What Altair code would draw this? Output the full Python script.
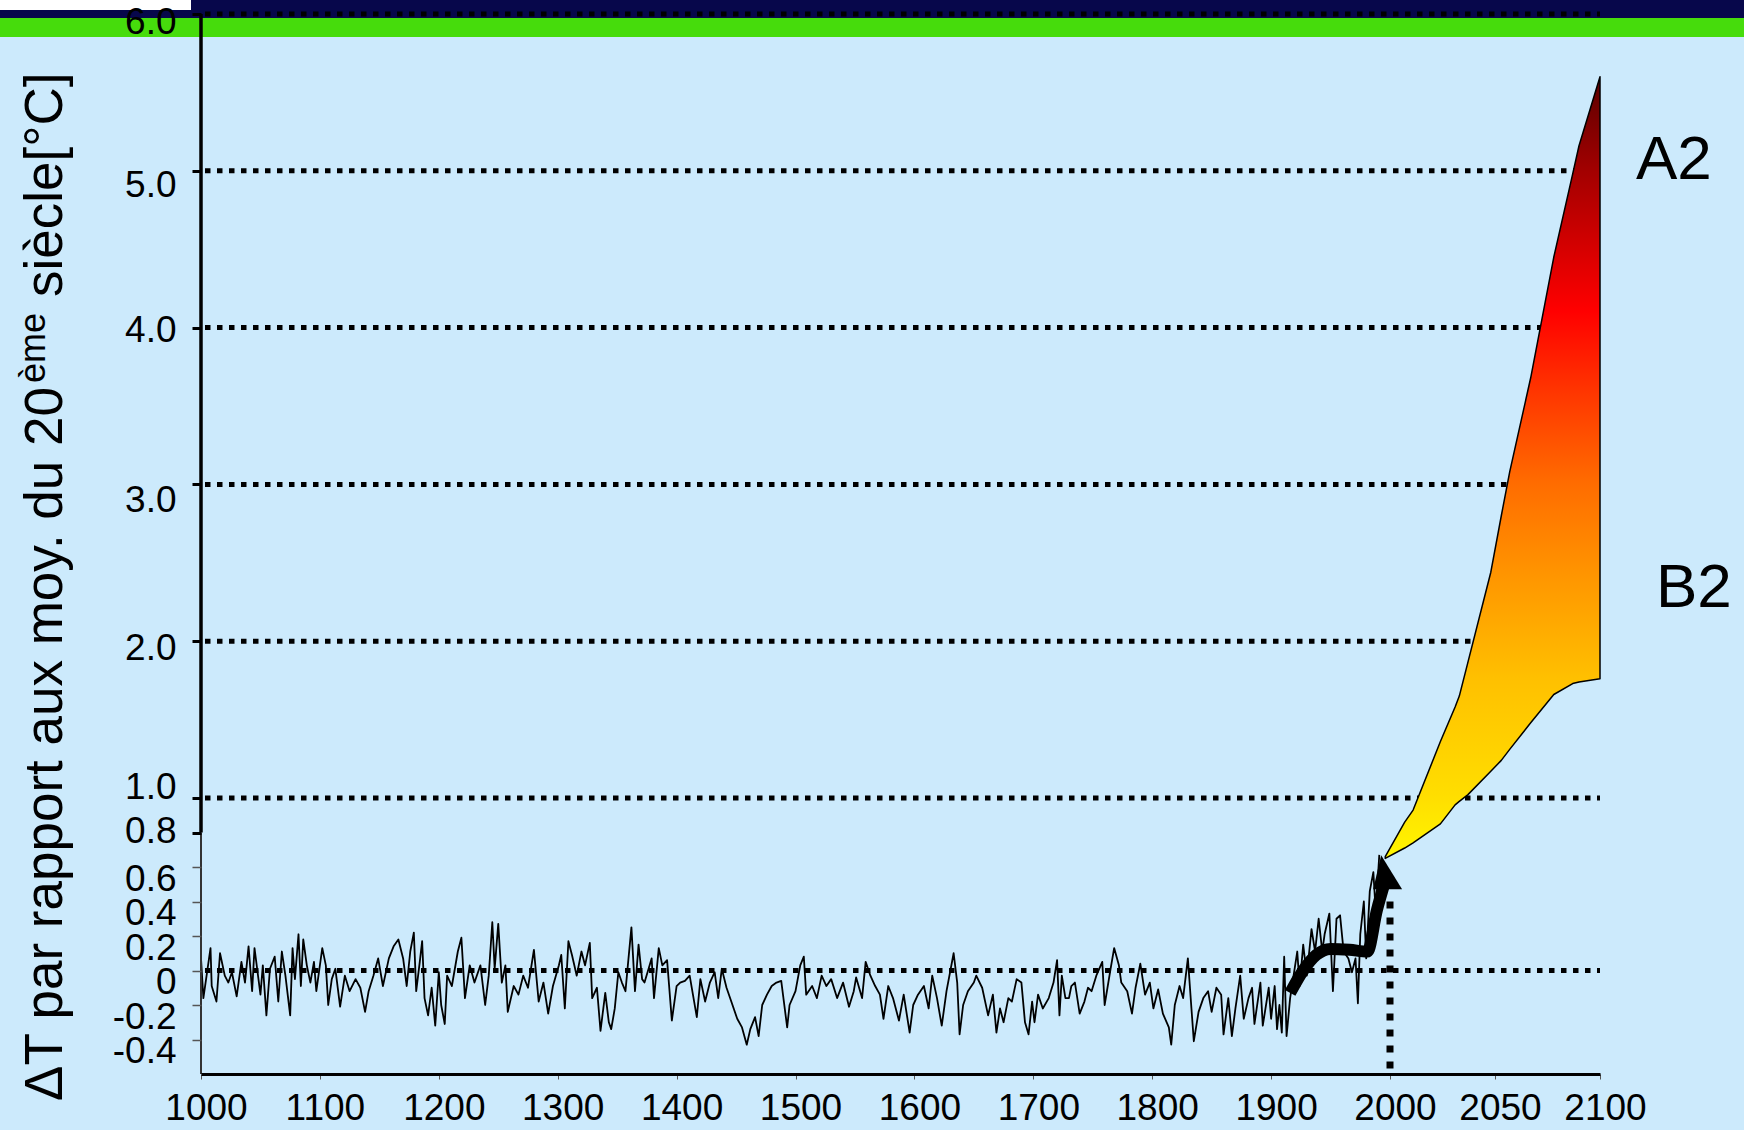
import altair as alt
import pandas as pd

# ---------------------------------------------------------------------------
# Reconstructed northern-hemisphere temperature anomaly, 1000-1991
# (deg C, relative to the 20th-century mean), read in four stretches
# ---------------------------------------------------------------------------
YEARS_A = [1000, 1002, 1008, 1009, 1013, 1016, 1020, 1023, 1026, 1030,
           1034, 1037, 1040, 1043, 1045, 1050, 1052, 1055, 1058, 1062,
           1065, 1068, 1071, 1075, 1077, 1079, 1082, 1084, 1086, 1089,
           1092, 1095, 1097, 1102, 1105, 1107, 1110, 1113, 1117, 1121,
           1125, 1130, 1134, 1138, 1141, 1145, 1149, 1153, 1158, 1162,
           1166, 1170, 1173, 1176, 1179, 1181, 1184, 1186, 1188, 1191,
           1194, 1197, 1200, 1202, 1205, 1207, 1211, 1216, 1219, 1222,
           1226, 1230, 1235, 1239, 1242, 1245, 1247, 1250, 1253, 1256,
           1258, 1263, 1267, 1271, 1275, 1280, 1284, 1288, 1292, 1296,
           1301, 1303, 1306, 1309, 1312, 1316, 1320, 1323]
ANOM_A = [0.07, -0.16, 0.13, -0.09, -0.18, 0.10, -0.03, -0.07, -0.01, -0.15,
          0.05, -0.07, 0.14, -0.12, 0.13, -0.14, 0.03, -0.26, 0.01, 0.08,
          -0.18, 0.11, -0.03, -0.26, 0.13, -0.05, 0.21, -0.09, 0.18, 0.03,
          -0.07, 0.05, -0.12, 0.13, 0.03, -0.20, -0.05, 0.01, -0.21, -0.03,
          -0.12, -0.05, -0.10, -0.24, -0.12, -0.03, 0.07, -0.09, 0.07, 0.14,
          0.18, 0.07, -0.09, 0.11, 0.22, -0.12, 0.05, 0.17, -0.16, -0.26,
          -0.10, -0.32, -0.01, -0.20, -0.31, -0.03, -0.09, 0.11, 0.19, -0.16,
          0.03, -0.07, 0.03, -0.20, -0.03, 0.28, 0.01, 0.27, -0.07, 0.03,
          -0.24, -0.09, -0.14, -0.03, -0.10, 0.12, -0.18, -0.07, -0.25, -0.09,
          0.03, 0.09, -0.22, 0.17, 0.09, -0.03, 0.11, 0.03]

YEARS_B = [1327, 1329, 1333, 1336, 1340, 1343, 1345, 1348, 1351, 1354,
           1357, 1359, 1362, 1365, 1368, 1371, 1373, 1379, 1381, 1385,
           1388, 1392, 1396, 1400, 1403, 1407, 1411, 1417, 1420, 1424,
           1428, 1432, 1435, 1438, 1442, 1446, 1451, 1455, 1459, 1462,
           1466, 1469, 1472, 1476, 1480, 1484, 1488, 1493, 1495, 1500,
           1504, 1507, 1509, 1514, 1518, 1522, 1526, 1530, 1535, 1540,
           1545, 1549, 1551, 1556, 1559, 1563, 1567, 1571, 1574, 1578,
           1582, 1587, 1591, 1596, 1599, 1603, 1608, 1612, 1615, 1619,
           1623, 1627, 1633, 1636, 1638, 1641, 1645, 1650, 1652, 1657]
ANOM_B = [0.16, -0.16, -0.10, -0.35, -0.13, -0.30, -0.34, -0.22, -0.01, -0.07,
          -0.12, 0.03, 0.25, -0.12, 0.15, -0.05, -0.07, 0.07, -0.16, 0.13,
          0.03, 0.06, -0.29, -0.09, -0.07, -0.06, -0.03, -0.27, -0.05, -0.18,
          -0.07, -0.01, -0.16, 0.01, -0.10, -0.18, -0.28, -0.33, -0.43, -0.34,
          -0.27, -0.38, -0.20, -0.14, -0.09, -0.07, -0.06, -0.33, -0.20, -0.12,
          0.03, 0.08, -0.14, -0.09, -0.16, -0.03, -0.09, -0.05, -0.16, -0.07,
          -0.21, -0.12, -0.04, -0.16, 0.05, -0.03, -0.09, -0.14, -0.28, -0.09,
          -0.16, -0.29, -0.14, -0.36, -0.20, -0.14, -0.09, -0.22, -0.03, -0.16,
          -0.32, -0.12, 0.10, -0.07, -0.37, -0.20, -0.12, -0.07, -0.03, -0.10]

YEARS_C = [1662, 1666, 1669, 1672, 1675, 1679, 1682, 1686, 1690, 1693,
           1696, 1699, 1701, 1704, 1708, 1713, 1717, 1720, 1722, 1724,
           1727, 1730, 1732, 1735, 1739, 1743, 1746, 1749, 1753, 1758,
           1760, 1765, 1768, 1772, 1774, 1779, 1783, 1786, 1790, 1794,
           1798, 1801, 1805, 1809, 1814, 1816, 1819, 1823, 1826, 1830,
           1833, 1835, 1839, 1843, 1847, 1850, 1854, 1858, 1860, 1864,
           1867, 1870, 1874, 1877, 1881, 1884, 1886, 1891, 1893, 1898]
ANOM_C = [-0.26, -0.14, -0.36, -0.22, -0.30, -0.16, -0.18, -0.05, -0.07, -0.30,
          -0.37, -0.18, -0.30, -0.14, -0.22, -0.16, -0.07, 0.06, -0.26, -0.03,
          -0.16, -0.16, -0.09, -0.07, -0.25, -0.18, -0.10, -0.12, -0.03, 0.05,
          -0.20, 0.01, 0.13, 0.03, -0.07, -0.12, -0.25, -0.10, 0.04, -0.14,
          -0.07, -0.22, -0.11, -0.25, -0.33, -0.43, -0.20, -0.09, -0.16, 0.07,
          -0.22, -0.41, -0.24, -0.16, -0.12, -0.24, -0.10, -0.14, -0.37, -0.16,
          -0.38, -0.22, -0.03, -0.28, -0.16, -0.10, -0.31, -0.07, -0.32, -0.10]

YEARS_D = [1900, 1903, 1905, 1907, 1909, 1911, 1913, 1916, 1922, 1924,
           1927, 1930, 1934, 1937, 1940, 1943, 1945, 1949, 1952, 1955,
           1958, 1961, 1965, 1968, 1971, 1973, 1975, 1978, 1980, 1983,
           1986, 1988, 1991]
ANOM_D = [-0.28, -0.09, -0.34, -0.20, -0.36, 0.08, -0.38, -0.16, 0.11, -0.09,
          0.15, -0.03, 0.24, 0.11, 0.30, 0.11, 0.21, 0.33, -0.12, 0.30,
          0.32, 0.11, 0.07, -0.01, 0.07, -0.19, 0.21, 0.40, 0.07, 0.46,
          0.57, 0.34, 0.67]

# Smoothed instrumental trend drawn as the thick arrow
TREND_YEARS = [1916, 1927, 1938, 1950, 1966, 1981, 1989, 1996]
TREND_VALUES = [-0.13, 0.00, 0.09, 0.125, 0.12, 0.11, 0.35, 0.52]
HEAD_YEAR = [1998]
HEAD_VALUE = [0.57]

# Projection envelope 2000-2100: A2 (upper edge) and B2 (lower edge)
FAN_YEARS = [1996, 2007, 2011, 2024, 2031, 2033, 2037, 2048, 2053, 2057,
             2067, 2078, 2087, 2090, 2100]
FAN_A2 = [0.66, 0.86, 0.93, 1.36, 1.58, 1.65, 1.86, 2.44, 2.80, 3.08,
          3.68, 4.45, 4.98, 5.16, 5.60]
FAN_B2 = [0.65, 0.71, 0.74, 0.85, 0.96, 0.98, 1.02, 1.17, 1.24, 1.31,
          1.48, 1.66, 1.73, 1.74, 1.76]

SCENARIOS = ["A2", "B2"]
SCENARIO_LEVELS = [4.95, 2.22]

GRID_LEVELS = [0, 1, 2, 3, 4, 5, 6]
Y_TICKS = [-0.4, -0.2, 0, 0.2, 0.4, 0.6, 0.8, 1, 2, 3, 4, 5, 6]
X_TICKS = [1000, 1100, 1200, 1300, 1400, 1500, 1600, 1700, 1800, 1900,
           2000, 2050, 2100]

# ---------------------------------------------------------------------------
series = pd.DataFrame({
    "year": YEARS_A + YEARS_B + YEARS_C + YEARS_D,
    "anomaly": ANOM_A + ANOM_B + ANOM_C + ANOM_D,
})
trend = pd.DataFrame({"year": TREND_YEARS, "anomaly": TREND_VALUES})
head = pd.DataFrame({"year": HEAD_YEAR, "anomaly": HEAD_VALUE})
fan = pd.DataFrame({"year": FAN_YEARS, "a2": FAN_A2, "b2": FAN_B2})
grid = pd.DataFrame({"level": GRID_LEVELS})
marker = pd.DataFrame({"year": [2000], "top": [0.40], "bottom": [-0.6]})
axis_upper = pd.DataFrame({"top": [6.0], "bottom": [0.8]})
axis_lower = pd.DataFrame({"top": [0.8], "bottom": [-0.6]})
one = pd.DataFrame({"k": [0]})

W, H = 1399, 1060
FONT = "Liberation Sans"
BG = "#cceafc"
NAVY = "#07074b"
GREEN = "#46dc0c"

x_scale = alt.Scale(domain=[1000, 2000, 2100], range=[0, 1189, W], nice=False, zero=False)
y_scale = alt.Scale(domain=[-0.6, 1.0, 6.0], range=[H, 784, 0], nice=False, zero=False)

x_axis = alt.Axis(
    values=X_TICKS, format="d", title=None, grid=False,
    domain=True, domainColor="black", domainWidth=3,
    ticks=True, tickSize=5, tickColor="#555555", tickWidth=1,
    labelFont=FONT, labelFontSize=37, labelColor="black",
    labelPadding=11, labelOffset=5, labelFlush=False, labelOverlap=False,
    zindex=1,
)

# Tick labels sit a little below their ticks, each by its own amount
label_shift = {
    "condition": [
        {"test": "datum.value == 6", "value": 8},
        {"test": "datum.value == 5", "value": 15},
        {"test": "datum.value == 4", "value": 3},
        {"test": "datum.value == 3", "value": 16},
        {"test": "datum.value == 2", "value": 7},
        {"test": "datum.value == 1", "value": -11},
        {"test": "datum.value == 0.8", "value": -1},
    ],
    "value": 12,
}
y_axis = alt.Axis(
    values=Y_TICKS, title=None, grid=False, domain=False,
    labelExpr="datum.value == 0 ? '0' : (datum.value < 0 ? '-' : '') + format(abs(datum.value), '.1f')",
    ticks=True, tickSize=9,
    tickColor={"condition": {"test": "datum.value >= 0.8", "value": "black"}, "value": "#555555"},
    tickWidth={"condition": {"test": "datum.value >= 0.8", "value": 3}, "value": 1.5},
    labelFont=FONT, labelFontSize=37, labelColor="black", labelPadding=16,
    labelOffset=label_shift,
    labelFlush=False, labelOverlap=False, zindex=1,
)

X = lambda f: alt.X(f, type="quantitative", scale=x_scale, axis=x_axis)
Y = lambda f: alt.Y(f, type="quantitative", scale=y_scale, axis=y_axis)

# Header bands across the top of the slide
def band(color, x0, x1, y0, y1):
    return alt.Chart(one).mark_rect(color=color).encode(
        x=alt.value(x0), x2=alt.value(x1), y=alt.value(y0), y2=alt.value(y1)
    )

bands = [
    band("white", -201, -10, -14, -4),
    band(NAVY, -201, -10, -4, 4),
    band(NAVY, -10, W + 144, -14, 4),
    band(GREEN, -201, W + 144, 4, 23),
]

gridlines = alt.Chart(grid).mark_rule(
    color="black", strokeWidth=5, strokeDash=[5.5, 6.5]
).encode(y=Y("level"), x=alt.value(4), x2=alt.value(W))

year_marker = alt.Chart(marker).mark_rule(
    color="black", strokeWidth=7, strokeDash=[7, 9]
).encode(x=X("year"), y=Y("top"), y2="bottom")

reconstruction = alt.Chart(series).mark_line(
    color="black", strokeWidth=1.8, strokeJoin="round"
).encode(x=X("year"), y=Y("anomaly"))

gradient = alt.Gradient(
    gradient="linear", x1=0, y1=0, x2=0, y2=1,
    stops=[
        alt.GradientStop(offset=0.0, color="#5a0000"),
        alt.GradientStop(offset=0.12, color="#a20000"),
        alt.GradientStop(offset=0.30, color="#ff0000"),
        alt.GradientStop(offset=0.40, color="#ff3400"),
        alt.GradientStop(offset=0.52, color="#ff6c00"),
        alt.GradientStop(offset=0.64, color="#ff9600"),
        alt.GradientStop(offset=0.77, color="#ffc000"),
        alt.GradientStop(offset=0.92, color="#ffde00"),
        alt.GradientStop(offset=1.0, color="#fff600"),
    ],
)
projection = alt.Chart(fan).mark_area(
    fill=gradient, stroke="black", strokeWidth=1.5, strokeJoin="round"
).encode(x=X("year"), y=Y("a2"), y2="b2")

trend_line = alt.Chart(trend).mark_line(
    color="black", strokeWidth=12, interpolate="monotone", strokeCap="butt"
).encode(x=X("year"), y=Y("anomaly"))

arrow_head = alt.Chart(head).mark_point(
    shape="M-0.38,-1L0.85,1L-0.85,1Z", size=1156, filled=True,
    color="black", opacity=1, strokeWidth=0
).encode(x=X("year"), y=Y("anomaly"))

# Vertical axis line: heavy above 0.8, light below
axis_top = alt.Chart(axis_upper).mark_rule(color="black", strokeWidth=3.5).encode(
    x=alt.value(0), y=Y("top"), y2="bottom")
axis_bottom = alt.Chart(axis_lower).mark_rule(color="#333333", strokeWidth=2).encode(
    x=alt.value(0), y=Y("top"), y2="bottom")

# Rotated axis title with a superscript ordinal
def title_part(text, x, y, size):
    return alt.Chart(one).mark_text(
        text=text, angle=270, align="left", baseline="alphabetic",
        font=FONT, fontSize=size, color="black"
    ).encode(x=alt.value(x), y=alt.value(y))

title = [
    title_part("ΔT par rapport aux moy. du 20", -139, 1087, 53),
    title_part("ème", -156, 369, 36),
    title_part("siècle[°C]", -139, 283, 53),
]

def scenario_label(name, level, dx):
    df = pd.DataFrame({"year": [2100], "level": [level], "name": [name]})
    return alt.Chart(df).mark_text(
        align="left", baseline="alphabetic", dx=dx,
        font=FONT, fontSize=62, color="black"
    ).encode(x=X("year"), y=Y("level"), text="name:N")

labels = [
    scenario_label(SCENARIOS[0], SCENARIO_LEVELS[0], 36),
    scenario_label(SCENARIOS[1], SCENARIO_LEVELS[1], 56),
]

chart = alt.layer(
    *bands, gridlines, year_marker, reconstruction, projection,
    trend_line, arrow_head, axis_top, axis_bottom, *title, *labels
).properties(
    width=W, height=H,
    padding={"left": 201, "top": 14, "right": 144, "bottom": 56},
    autosize=alt.AutoSizeParams(type="none"),
    background=BG,
).configure_view(stroke=None)

chart.save("out.html", embed_options={"renderer": "svg", "actions": False})
